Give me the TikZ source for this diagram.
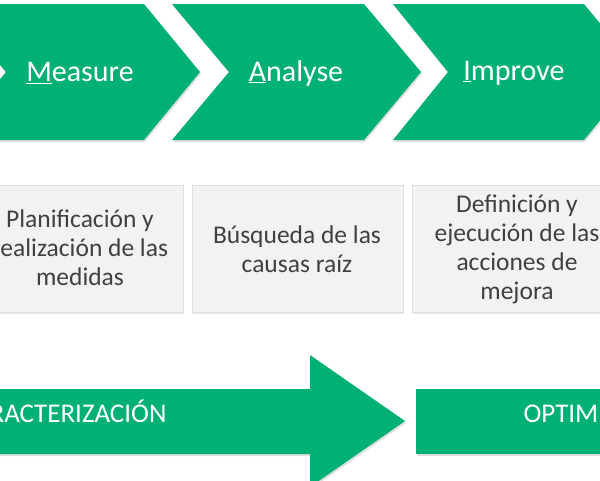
\documentclass[tikz,border=0pt]{standalone}
\usepackage{fontspec}
\setmainfont{Carlito}
\usetikzlibrary{shadows}
\definecolor{sixgreen}{RGB}{0,176,116}
\definecolor{boxgray}{RGB}{242,242,242}
\definecolor{txtgray}{RGB}{64,64,64}
\begin{document}
\begin{tikzpicture}[x=1pt, y=-1pt,
      phase/.style={fill=sixgreen, draw=none, drop shadow={opacity=0.25, shadow xshift=1pt, shadow yshift=-2pt}},
      stage/.style={fill=boxgray, draw=black!12, drop shadow={opacity=0.2, shadow xshift=1pt, shadow yshift=-2pt}},
      ptxt/.style={text=white, font=\fontsize{30}{33}\selectfont},
      btxt/.style={text=txtgray, align=center, font=\fontsize{25.5}{29}\selectfont},
      gtxt/.style={text=white, font=\fontsize{27}{30}\selectfont}]

      \useasboundingbox (0,0) rectangle (600,480);
      \clip (0,0) rectangle (600,480);

      % chevrons
      \path[phase] (-50,4) -- (144,4) -- (200,72) -- (144,140) -- (-50,140) -- (6,72) -- cycle;
      \path[phase] (172,4) -- (364,4) -- (421,72) -- (364,140) -- (172,140) -- (229,72) -- cycle;
      \path[phase] (393,4) -- (584,4) -- (640,72) -- (584,140) -- (393,140) -- (448,72) -- cycle;
      \node[ptxt] (measure) at (80,73) {\underline{M}easure};
      \node[ptxt] (analyse) at (296,73) {\underline{A}nalyse};
      \node[ptxt] (improve) at (514,73) {\underline{I}mprove};

      % descriptions
      \path[stage] (-25,185) rectangle (183,312);
      \path[stage] (192,185) rectangle (403,312);
      \path[stage] (412,185) rectangle (625,312);
      \node[btxt] (plan) at (80,248) {Planificación y\\realización de las\\medidas};
      \node[btxt] (causas) at (297,249) {Búsqueda de las\\causas raíz};
      \node[btxt] (mejora) at (517,249) {Definición y\\ejecución de las\\acciones de\\mejora};

      % bottom arrows
      \path[phase] (-60,389) -- (310,389) -- (310,355) -- (405,421) -- (310,487) -- (310,454) -- (-60,454) -- cycle;
      \path[phase] (416,389) rectangle (700,454);
      \node[gtxt, anchor=east] (caract) at (170,411) {CARACTERIZACIÓN};
      \node[gtxt, anchor=west] (optim) at (520,411) {OPTIMIZACIÓN};
\end{tikzpicture}
\end{document}
